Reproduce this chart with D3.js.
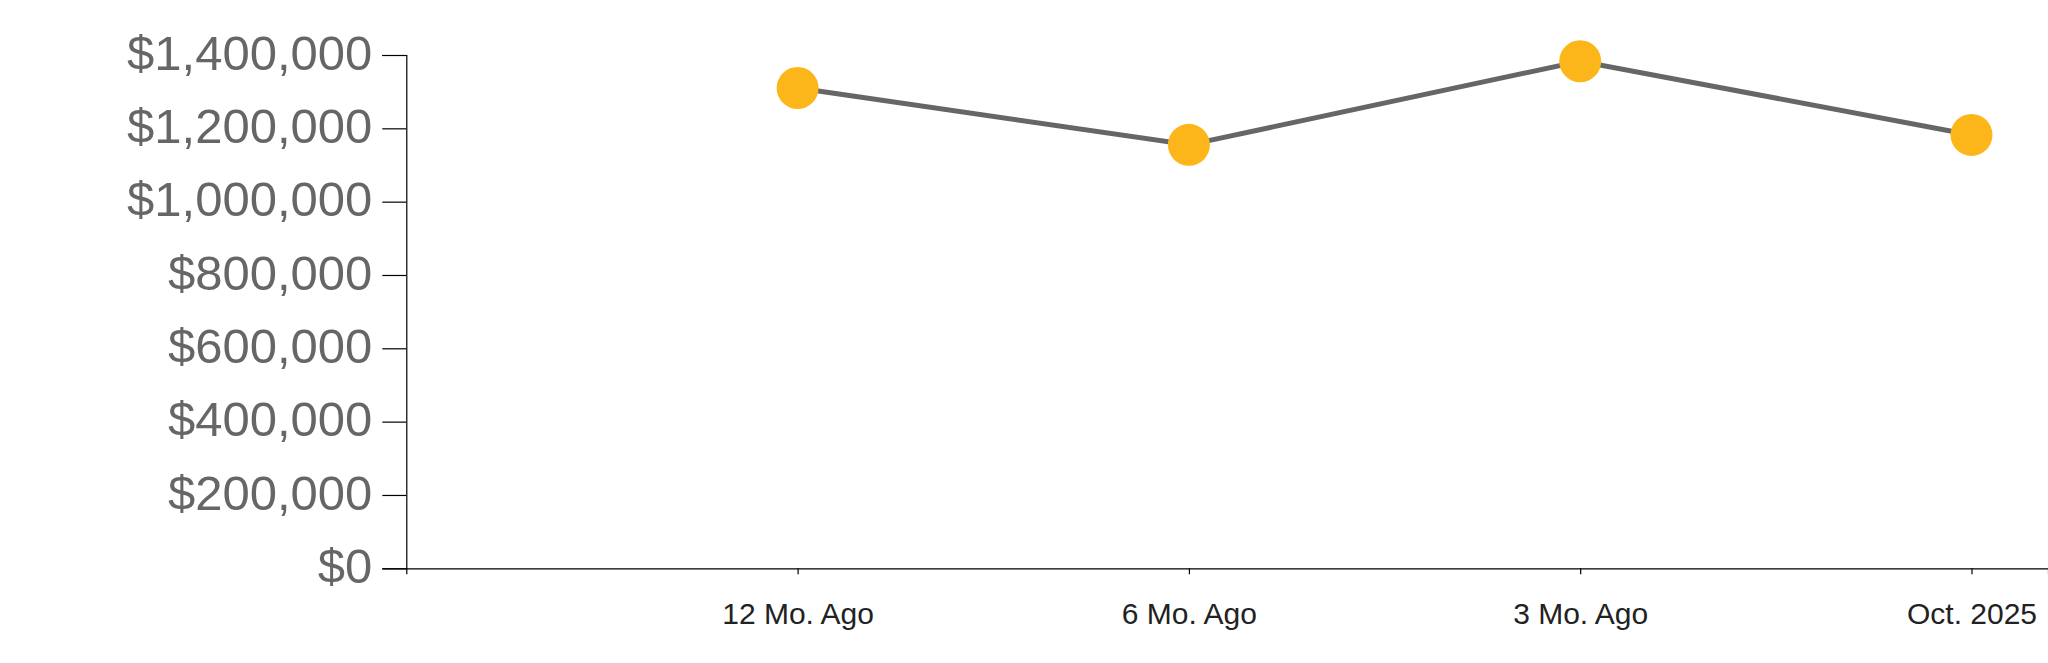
<!DOCTYPE html>
<html>
<head>
<meta charset="utf-8">
<script src="https://cdn.jsdelivr.net/npm/d3@7/dist/d3.min.js"></script>
<style>
  html, body { margin: 0; padding: 0; background: #ffffff; }
  svg { display: block; }
  text { font-family: "Liberation Sans", Arial, sans-serif; }
</style>
</head>
<body>
<svg id="chart" width="2048" height="663"></svg>
<script>
const categories = ["12 Mo. Ago", "6 Mo. Ago", "3 Mo. Ago", "Oct. 2025"];
const values = [1310000, 1155000, 1383000, 1182000];
const yTicks = [0, 200000, 400000, 600000, 800000, 1000000, 1200000, 1400000];

(function () {
const W = 2048, H = 663;
const plotLeft = 406.3, plotBottom = 568.3, plotTop = 55;
const step = 391.3;

const svg = d3.select("#chart");

const y = d3.scaleLinear().domain([0, 1400000]).range([plotBottom, plotTop]);
// category index scale: index i sits at plotLeft + (i+1)*step, axis runs to right edge
const x = d3.scaleLinear().domain([-1, -1 + (W - plotLeft) / step]).range([plotLeft, W]);

const fmt = d3.format("$,");

// Y axis
const yAxis = svg.append("g")
  .attr("transform", `translate(${plotLeft},0)`)
  .call(d3.axisLeft(y).tickValues(yTicks).tickFormat(fmt).tickSize(24).tickPadding(10));
yAxis.select(".domain").attr("stroke", "#000").attr("stroke-width", 1.2);
yAxis.selectAll(".tick line").attr("stroke", "#000").attr("stroke-width", 1.2);
yAxis.selectAll(".tick text")
  .attr("font-size", 49)
  .attr("fill", "#666666")
  .attr("dy", "0.29em")
  .style("font-family", "'Liberation Sans', Arial, sans-serif");

// X axis
const xAxis = svg.append("g")
  .attr("transform", `translate(0,${plotBottom})`)
  .call(d3.axisBottom(x).tickValues(d3.range(categories.length))
    .tickFormat(i => categories[i]).tickSize(6).tickPadding(28));
xAxis.select(".domain").attr("stroke", "#000").attr("stroke-width", 1.2);
xAxis.selectAll(".tick line").attr("stroke", "#000").attr("stroke-width", 1.2);
xAxis.selectAll(".tick text")
  .attr("font-size", 30)
  .attr("fill", "#222222")
  .style("font-family", "'Liberation Sans', Arial, sans-serif");

// Line
const line = d3.line()
  .x((d, i) => x(i))
  .y(d => y(d));

svg.append("path")
  .datum(values)
  .attr("fill", "none")
  .attr("stroke", "#666666")
  .attr("stroke-width", 5)
  .attr("d", line);

// Points
svg.append("g")
  .selectAll("circle")
  .data(values)
  .join("circle")
  .attr("cx", (d, i) => x(i))
  .attr("cy", d => y(d))
  .attr("r", 21)
  .attr("fill", "#FCB61A");
})();
</script>
</body>
</html>
